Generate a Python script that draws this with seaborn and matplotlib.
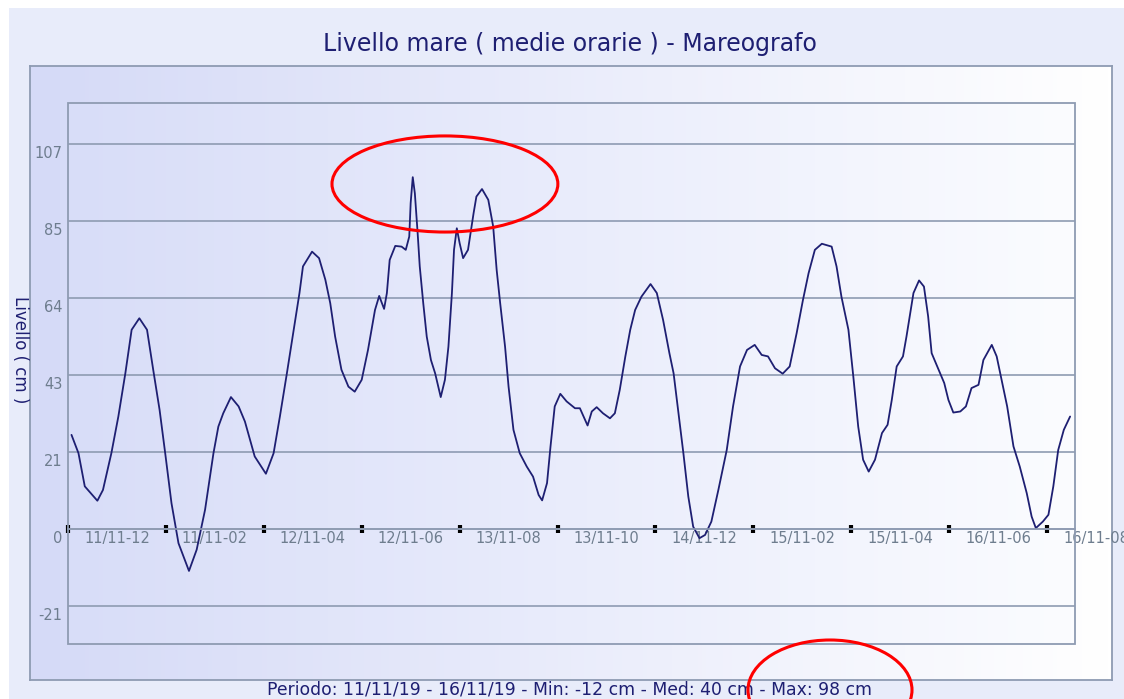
import numpy as np
import pandas as pd
import seaborn as sns
import matplotlib.pyplot as plt
import matplotlib.transforms as mtransforms
from matplotlib.colors import LinearSegmentedColormap
from matplotlib.patches import Rectangle, Ellipse

# Dati (ore dall'inizio del periodo, livello in cm)
ore = [0.5, 1.5, 2.4, 4.2, 5.0, 6.2, 7.2, 8.2, 9.1, 10.2, 11.3, 12.2, 13.1, 13.9,
       14.8, 15.8, 17.3, 18.4, 19.6, 20.8, 21.5, 22.2, 23.3, 24.4, 25.3, 26.7,
       28.3, 29.4, 30.3, 31.3, 32.2, 33.1, 33.6, 34.9, 35.9, 36.8, 37.5, 38.2,
       39.1, 40.1, 41.0, 42.0, 42.9, 43.9, 44.5, 45.2, 45.6, 46.0, 46.8, 47.7,
       48.3, 48.8, 49.0, 49.3, 49.6, 50.0, 50.3, 50.8, 51.3, 51.9, 52.5, 53.3,
       53.9, 54.4, 54.9, 55.2, 55.6, 56.0, 56.5, 57.2, 58.0, 58.4, 59.2, 60.1,
       60.8, 61.3, 61.8, 62.5, 63.0, 63.7, 64.6, 65.6, 66.5, 67.3, 67.8, 68.5,
       69.0, 69.6, 70.4, 71.3, 72.5, 73.2, 74.3, 74.9, 75.6, 76.5, 77.5, 78.2,
       78.9, 79.7, 80.4, 81.1, 82.0, 83.3, 84.2, 85.1, 86.0, 86.6, 87.3, 88.0,
       88.7, 89.4, 90.3, 91.1, 92.0, 93.0, 94.2, 95.1, 96.1, 97.1, 98.2, 99.2,
       100.1, 101.1, 102.2, 103.2, 104.2, 105.1, 105.9, 106.8, 107.8, 109.2,
       109.9, 110.6, 111.6, 112.3, 113.0, 113.7, 114.5, 115.4, 116.4, 117.2,
       117.8, 118.5, 119.4, 119.9, 120.9, 121.7, 122.4, 123.0, 123.5, 124.5,
       125.3, 125.9, 126.6, 127.6, 128.4, 129.2, 130.2, 130.9, 132.1, 132.8,
       133.5, 134.3, 135.2, 136.1, 137.1, 137.8, 138.4, 139.4, 140.2, 140.9,
       141.6, 142.4, 143.3]
livello = [26.1, 21, 11.8, 7.8, 10.8, 21, 31.2, 43.2, 55.3, 58.5, 55.3, 44, 33, 21,
           7.1, -4, -11.7, -5.8, 5.3, 21, 28.4, 32.1, 36.6, 34, 29.8, 20.1,
           15.3, 21, 31.2, 43.2, 54.3, 65.5, 72.9, 77, 75.2, 69.2, 62.7, 53.4,
           44.2, 39.5, 38.1, 41.4, 49.7, 60.8, 64.7, 61.1, 65.5, 74.7, 78.6, 78.4,
           77.5, 81.2, 90.5, 97.7, 93.2, 82.1, 72.9, 62.7, 53.4, 46.9, 43.2, 36.6,
           41.4, 50.6, 65.5, 77.5, 83.5, 79.4, 75.2, 77.5, 87.7, 92.3, 94.4, 91.4,
           84, 71.9, 62.7, 50.6, 39.5, 27.5, 21, 17.3, 14.5, 9.4, 7.9, 12.7,
           22.9, 34, 37.5, 35.4, 33.5, 33.5, 28.7, 32.6, 33.8, 32.1, 30.7, 32.1,
           38.6, 47.9, 55.3, 60.8, 64.5, 68, 65.5, 58, 48.8, 43.2, 32.1, 21,
           9, 0.6, -2.6, -1.7, 2, 10.8, 21.9, 34, 45.1, 49.7, 51.1, 48.3,
           47.9, 44.6, 43.1, 45.1, 54.4, 63.6, 71, 77.5, 79.2, 78.4,
           72.9, 64.5, 55.3, 42.3, 28.4, 19.2, 15.9, 19.2, 26.6, 28.9,
           35.8, 45.1, 47.9, 53.4, 65.5, 69, 67.3, 59, 48.8, 44.2,
           40.5, 35.8, 32.3, 32.6, 34, 39.1, 40, 46.9, 51.1, 47.9,
           41.4, 34, 22.9, 17.3, 9.9, 3.4, 0.2, 2, 3.9, 11.8,
           21.9, 27.5, 31.2]

y_ticks = [-21.4, 0, 21.4, 42.8, 64.2, 85.6, 107]
y_labels = ['-21', '0', '21', '43', '64', '85', '107']
x_ticks = [0, 14, 28, 42, 56, 70, 84, 98, 112, 126, 140]
x_labels = ['11/11-12', '11/11-02', '12/11-04', '12/11-06', '13/11-08', '13/11-10',
            '14/11-12', '15/11-02', '15/11-04', '16/11-06', '16/11-08']

df = pd.DataFrame({'ore': ore, 'livello': livello})

sns.set_style("white")
plt.rcParams['font.family'] = ['DejaVu Sans']

navy = '#1e1f72'
grigio = '#8e9bb2'
testo = '#6e7d8e'

fig = plt.figure(figsize=(11.24, 6.99), dpi=100)
fig.patch.set_facecolor('white')

# pannello esterno
fig.add_artist(Rectangle((9 / 1124, 0), 1, 1 - 8 / 699, transform=fig.transFigure,
                         facecolor='#e8ecfa', edgecolor='none', zorder=-1))

grad = np.linspace(0, 1, 256).reshape(1, -1)

# riquadro con sfumatura
box = fig.add_axes([30 / 1124, 1 - 680 / 699, 1082 / 1124, 614 / 699], zorder=0.1)
box.imshow(grad, aspect='auto', extent=[0, 1, 0, 1],
           cmap=LinearSegmentedColormap.from_list('b1', ['#d5daf7', '#ffffff']))
box.set_xticks([])
box.set_yticks([])
for s in box.spines.values():
    s.set_color(grigio)
    s.set_linewidth(1.3)

pos = [68 / 1124, 1 - 644 / 699, 1007 / 1124, 541 / 699]
bg = fig.add_axes(pos, zorder=0.2)
bg.imshow(grad, aspect='auto', extent=[0, 1, 0, 1],
          cmap=LinearSegmentedColormap.from_list('b2', ['#d8ddf8', '#fbfcff']))
bg.axis('off')

ax = fig.add_axes(pos, zorder=1)
ax.set_facecolor('none')

sns.lineplot(data=df, x='ore', y='livello', ax=ax, color=navy, linewidth=1.3)

ax.set_xlim(0, 144)
ax.set_ylim(-32, 118.3)
ax.set_xlabel('')
ax.set_ylabel('')

ax.set_yticks(y_ticks, y_labels)
ax.yaxis.grid(True, color=grigio, linewidth=1.2)
ax.tick_params(axis='y', left=False, length=0, pad=4, labelsize=10.5, labelcolor=testo)
off = mtransforms.ScaledTranslation(0, -0.08, fig.dpi_scale_trans)
for lab in ax.get_yticklabels():
    lab.set_transform(lab.get_transform() + off)

ax.spines['bottom'].set_position(('data', 0))
ax.spines['bottom'].set_color(grigio)
ax.spines['bottom'].set_linewidth(1.2)
for s in ['top', 'left', 'right']:
    ax.spines[s].set_visible(False)
ax.add_patch(Rectangle((0, 0), 1, 1, transform=ax.transAxes, fill=False,
                       edgecolor=grigio, linewidth=1.3, clip_on=False))

ax.set_xticks(x_ticks, [''] * len(x_ticks))
ax.tick_params(axis='x', bottom=True, direction='inout', length=6, width=3,
               color='black')
for xt, lab in zip(x_ticks, x_labels):
    ax.annotate(lab, (xt + 7, 0), xytext=(0, -7), textcoords='offset points',
                ha='center', va='center', fontsize=10.5, color=testo,
                annotation_clip=False, zorder=0)

# annotazioni rosse
ax.add_patch(Ellipse((53.9, 95.8), 32.3, 26.7, fill=False, edgecolor='#ff0000',
                     linewidth=2.2, clip_on=False, zorder=5))
fig.add_artist(Ellipse((830 / 1124, 1 - 690 / 699), 164 / 1124, 100 / 699,
                       transform=fig.transFigure, fill=False, edgecolor='#ff0000',
                       linewidth=2.2, zorder=5))

fig.text(0.507, 1 - 44 / 699, 'Livello mare ( medie orarie ) - Mareografo',
         ha='center', va='center', fontsize=17, color=navy)
fig.text(0.507, 1 - 690 / 699,
         'Periodo: 11/11/19 - 16/11/19 - Min: -12 cm - Med: 40 cm - Max: 98 cm',
         ha='center', va='center', fontsize=12.4, color=navy)
fig.text(20 / 1124, 1 - 350 / 699, 'Livello ( cm )', rotation=270,
         ha='center', va='center', fontsize=12, color=navy)

plt.savefig('out.png', dpi=100)
